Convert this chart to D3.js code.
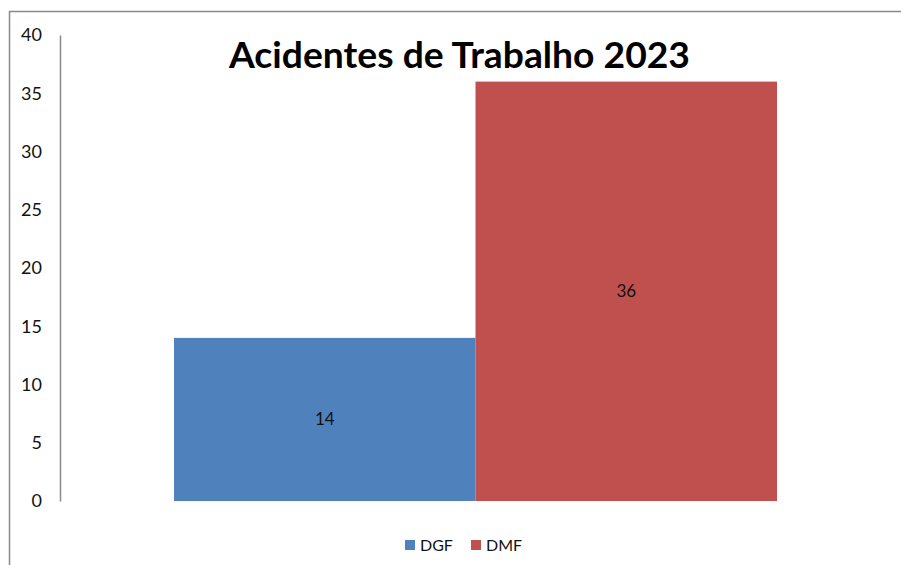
<!DOCTYPE html>
<html><head><meta charset="utf-8">
<script src="https://cdn.jsdelivr.net/npm/d3@7"></script>
<style>body{margin:0;background:#fff}svg{display:block}</style>
</head><body>
<svg id="c" width="901" height="565"></svg>
<script>
const categories = ["DGF", "DMF"];
const values = [14, 36];
const colors = ["#4F81BD", "#C0504D"];
const yTicks = [0, 5, 10, 15, 20, 25, 30, 35, 40];
const title = "Acidentes de Trabalho 2023";

const svg = d3.select("#c");
const font = "Lato, 'Open Sans', sans-serif";

// outer border
svg.append("rect").attr("x", 9.5).attr("y", 11.5).attr("width", 960).attr("height", 640)
  .attr("fill", "#fff").attr("stroke", "#8a8a8a").attr("stroke-width", 1.5);

const plot = {left: 60, right: 891, top: 35, bottom: 501};
const y = d3.scaleLinear().domain([0, 40]).range([plot.bottom, plot.top]);
const x = d3.scaleBand().domain(categories).range([174, 777]).padding(0);

// axis
const ax = svg.append("g").attr("transform", `translate(${plot.left},0)`)
  .call(d3.axisLeft(y).tickValues(yTicks).tickSize(0).tickPadding(18));
ax.select(".domain").attr("stroke", "#8a8a8a").attr("stroke-width", 1.5);
ax.selectAll("text").attr("font-family", font).attr("font-size", 18).attr("fill", "#111");

// bars
svg.append("g").selectAll("rect").data(categories).join("rect")
  .attr("x", d => x(d)).attr("width", x.bandwidth())
  .attr("y", (d, i) => y(values[i])).attr("height", (d, i) => y(0) - y(values[i]))
  .attr("fill", (d, i) => colors[i]);

// data labels
svg.append("g").selectAll("text").data(categories).join("text")
  .attr("x", d => x(d) + x.bandwidth() / 2)
  .attr("y", (d, i) => (y(values[i]) + y(0)) / 2)
  .attr("dy", "0.35em").attr("text-anchor", "middle")
  .attr("font-family", font).attr("font-size", 17).attr("fill", "#111")
  .text((d, i) => values[i]);

// title
svg.append("text").attr("x", 459.5).attr("y", 68).attr("text-anchor", "middle")
  .attr("font-family", font).attr("font-weight", "bold").attr("font-size", 37)
  .attr("textLength", 461).attr("lengthAdjust", "spacingAndGlyphs")
  .attr("fill", "#000").text(title);

// legend
const legX = [405, 471];
const lg = svg.append("g").selectAll("g").data(categories).join("g")
  .attr("transform", (d, i) => `translate(${legX[i]},540)`);
lg.append("rect").attr("width", 10).attr("height", 10).attr("fill", (d, i) => colors[i]);
lg.append("text").attr("x", 15).attr("y", 5).attr("dy", "0.36em")
  .attr("font-family", font).attr("font-size", 16).attr("fill", "#111").text(d => d);
</script>
</body></html>
